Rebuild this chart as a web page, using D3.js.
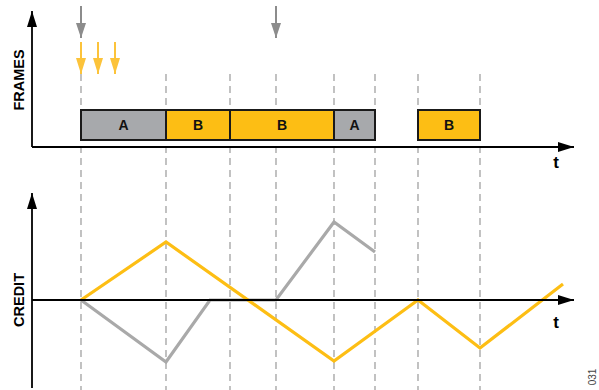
<!DOCTYPE html>
<html><head><meta charset="utf-8">
<script src="https://cdn.jsdelivr.net/npm/d3@7"></script>
<style>body{margin:0;background:#fff}svg{display:block}</style>
</head><body>
<svg id="c" width="599" height="390"></svg>
<script>
// time boundaries (dashed guides)
const guideTimes = [49, 134, 198, 244, 302, 343, 386, 448];
// frames: start, end, label
const frameStart = [49, 134, 198, 302, 386];
const frameEnd   = [134, 198, 302, 343, 448];
const frameLabel = ["A", "B", "B", "A", "B"];
// arrivals
const grayArrivals = [49, 244];
const yellowArrivals = [49, 66, 83];
// credit lines
const yellowT = [49, 134, 302, 386, 448, 531];
const yellowCredit = [0, 5.8, -6.1, 0, -4.8, 1.6];
const grayT = [49, 134, 178, 244, 302, 343];
const grayCredit = [0, -6.2, 0, 0, 7.8, 4.8];

const YEL = "#FDBE14", GRY = "#A7A9AC", LGRY = "#A9A9A9";
const svg = d3.select("#c");
const x = d3.scaleLinear().domain([0, 542]).range([32, 574]);
const yC = d3.scaleLinear().domain([-8.8, 10.7]).range([388, 193]);

const defs = svg.append("defs");
function marker(id, color, w, h){
  defs.append("marker").attr("id", id).attr("viewBox", `0 0 ${w} ${h}`)
    .attr("refX", w).attr("refY", h/2).attr("markerWidth", w).attr("markerHeight", h)
    .attr("markerUnits", "userSpaceOnUse").attr("orient", "auto")
    .append("path").attr("d", `M0,0L${w},${h/2}L0,${h}Z`).attr("fill", color);
}
marker("ax", "#000", 16, 10);
marker("ag", "#8C8C8C", 15, 10);
marker("ay", "#FCC33A", 16, 10);

// dashed guides
svg.append("g").selectAll("line").data(guideTimes).join("line")
  .attr("x1", d => x(d)).attr("x2", d => x(d)).attr("y1", 74).attr("y2", 390)
  .attr("stroke", "#999").attr("stroke-width", 1.2).attr("stroke-dasharray", "7,5");

// frames
const fr = frameStart.map((s, i) => ({s, e: frameEnd[i], l: frameLabel[i]}));
svg.append("g").selectAll("rect").data(fr).join("rect")
  .attr("x", d => x(d.s)).attr("width", d => x(d.e) - x(d.s))
  .attr("y", 110).attr("height", 30)
  .attr("fill", d => d.l === "A" ? GRY : YEL)
  .attr("stroke", "#1a1a1a").attr("stroke-width", 2);
svg.append("g").selectAll("text").data(fr).join("text")
  .attr("x", d => (x(d.s) + x(d.e)) / 2).attr("y", 130)
  .attr("text-anchor", "middle").attr("font-family", "Liberation Sans, Arial, sans-serif")
  .attr("font-weight", "bold").attr("font-size", 14).attr("fill", "#111").text(d => d.l);

// arrival arrows
svg.append("g").selectAll("line").data(grayArrivals).join("line")
  .attr("x1", d => x(d)).attr("x2", d => x(d)).attr("y1", 6).attr("y2", 38)
  .attr("stroke", "#8C8C8C").attr("stroke-width", 2).attr("marker-end", "url(#ag)");
svg.append("g").selectAll("line").data(yellowArrivals).join("line")
  .attr("x1", d => x(d)).attr("x2", d => x(d)).attr("y1", 42).attr("y2", 74)
  .attr("stroke", "#FCC33A").attr("stroke-width", 2).attr("marker-end", "url(#ay)");

// axes
function axLine(x1, y1, x2, y2){
  svg.append("line").attr("x1", x1).attr("y1", y1).attr("x2", x2).attr("y2", y2)
    .attr("stroke", "#000").attr("stroke-width", 1.8).attr("marker-end", "url(#ax)");
}
axLine(x(0), 147, x(0), 11);
axLine(x(0), 147, x(542), 147);
axLine(x(0), 388, x(0), 193);

// credit lines
const line = d3.line().x(d => x(d[0])).y(d => yC(d[1]));
svg.append("path").datum(grayT.map((t, i) => [t, grayCredit[i]]))
  .attr("d", line).attr("fill", "none").attr("stroke", LGRY).attr("stroke-width", 3.2)
  .attr("stroke-linejoin", "miter");
svg.append("path").datum(yellowT.map((t, i) => [t, yellowCredit[i]]))
  .attr("d", line).attr("fill", "none").attr("stroke", YEL).attr("stroke-width", 3.2)
  .attr("stroke-linejoin", "miter");
axLine(x(0), yC(0), x(542), yC(0));

// labels
const F = "Liberation Sans, Arial, sans-serif";
svg.append("text").attr("transform", "translate(23.5,80) rotate(-90)").attr("text-anchor", "middle")
  .attr("font-family", F).attr("font-weight", "bold").attr("font-size", 14.5).text("FRAMES");
svg.append("text").attr("transform", `translate(23.5,${yC(0)}) rotate(-90)`).attr("text-anchor", "middle")
  .attr("font-family", F).attr("font-weight", "bold").attr("font-size", 14.5).text("CREDIT");
svg.append("text").attr("x", 556).attr("y", 168).attr("text-anchor", "middle")
  .attr("font-family", F).attr("font-weight", "bold").attr("font-size", 17).text("t");
svg.append("text").attr("x", 556).attr("y", 328).attr("text-anchor", "middle")
  .attr("font-family", F).attr("font-weight", "bold").attr("font-size", 17).text("t");
svg.append("text").attr("transform", "translate(596,377) rotate(-90)").attr("text-anchor", "middle")
  .attr("font-family", F).attr("font-size", 10).attr("fill", "#444").text("031");
</script>
</body></html>
